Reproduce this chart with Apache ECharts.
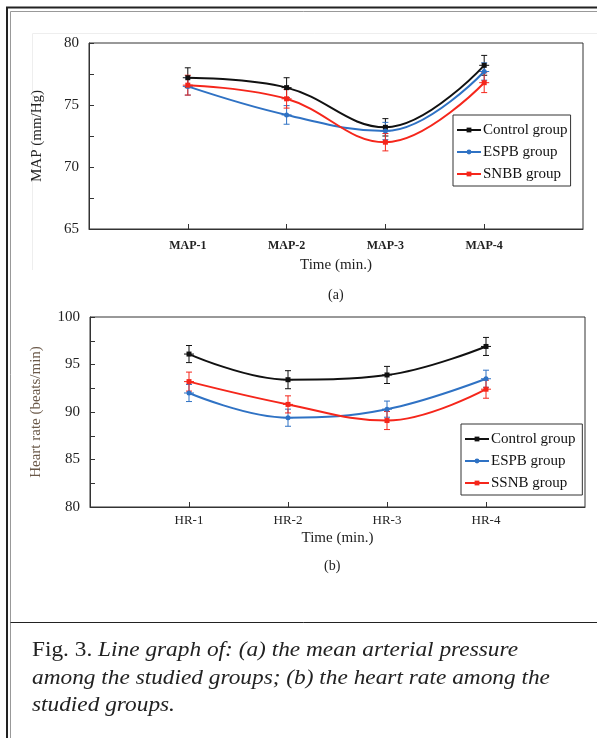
<!DOCTYPE html>
<html>
<head>
<meta charset="utf-8">
<script src="https://cdn.jsdelivr.net/npm/echarts@6/dist/echarts.min.js"></script>
<style>
  html, body { margin: 0; padding: 0; background: #fff; }
  #app { width: 597px; height: 738px; }
</style>
</head>
<body>
<div id="app"></div>
<script>
// values
const mapCategories = ["MAP-1", "MAP-2", "MAP-3", "MAP-4"];
const hrCategories = ["HR-1", "HR-2", "HR-3", "HR-4"];

const mapControl = [77.2, 76.4, 73.2, 78.2];
const mapEspb = [76.5, 74.2, 72.9, 77.7];
const mapSnbb = [76.6, 75.5, 72.0, 76.8];
const mapControlErr = [0.8, 0.8, 0.7, 0.8];
const mapEspbErr = [0.7, 0.75, 0.7, 0.7];
const mapSnbbErr = [0.8, 0.75, 0.7, 0.8];

const hrControl = [96.1, 93.4, 93.9, 96.9];
const hrEspb = [92.0, 89.4, 90.3, 93.5];
const hrSsnb = [93.2, 90.8, 89.1, 92.4];
const hrControlErr = [0.9, 0.95, 0.9, 0.95];
const hrEspbErr = [0.9, 0.9, 0.85, 0.9];
const hrSsnbErr = [1.0, 0.9, 0.95, 0.95];

const SERIF = "'Liberation Serif', 'Times New Roman', serif";
const BLACK = "#111";
const BLUE = "#2f72c4";
const RED = "#f5261b";

// pad the category axis with an empty slot on each side
const padCats = cats => [""].concat(cats, [""]);
const toPoints = vals => vals.map((v, i) => [i + 1, v]);
const toErr = (vals, errs) => vals.map((v, i) => [i + 1, v, errs[i]]);

function lineSeries(name, vals, color, symbol, axis) {
  return {
    type: "line",
    name,
    xAxisIndex: axis,
    yAxisIndex: axis,
    data: toPoints(vals),
    smooth: 0.4,
    symbol,
    symbolSize: 5,
    lineStyle: { color, width: 2 },
    itemStyle: { color },
    z: 3
  };
}

function errSeries(name, vals, errs, color, axis) {
  return {
    type: "custom",
    name: name + " (sd)",
    xAxisIndex: axis,
    yAxisIndex: axis,
    data: toErr(vals, errs),
    encode: { x: 0, y: 1 },
    z: 2,
    renderItem: (params, api) => {
      const x = api.value(0), y = api.value(1), e = api.value(2);
      const hi = api.coord([x, y + e]);
      const lo = api.coord([x, y - e]);
      const mid = api.coord([x, y]);
      const cap = 3;
      const style = { stroke: color, lineWidth: 1 };
      return {
        type: "group",
        children: [
          { type: "line", shape: { x1: hi[0], y1: hi[1], x2: lo[0], y2: lo[1] }, style },
          { type: "line", shape: { x1: hi[0] - cap, y1: hi[1], x2: hi[0] + cap, y2: hi[1] }, style },
          { type: "line", shape: { x1: lo[0] - cap, y1: lo[1], x2: lo[0] + cap, y2: lo[1] }, style },
          { type: "line", shape: { x1: mid[0] - 5, y1: mid[1], x2: mid[0] + 5, y2: mid[1] }, style }
        ]
      };
    }
  };
}

function xAxisFor(cats, axis, labelStyle, nameGap) {
  return {
    type: "category",
    gridIndex: axis,
    data: padCats(cats),
    boundaryGap: false,
    name: "Time (min.)",
    nameLocation: "middle",
    nameGap,
    nameTextStyle: { fontFamily: SERIF, fontSize: 15, color: "#222" },
    axisLine: { lineStyle: { color: "#333", width: 1 } },
    axisTick: {
      inside: true,
      length: 5,
      interval: (i, v) => v !== "",
      lineStyle: { color: "#333" }
    },
    axisLabel: Object.assign({
      interval: (i, v) => v !== "",
      fontFamily: SERIF,
      color: "#222"
    }, labelStyle),
    splitLine: { show: false }
  };
}

function yAxisFor(min, max, axis, name, nameColor, nameGap) {
  return {
    type: "value",
    gridIndex: axis,
    min,
    max,
    interval: 2.5,
    name,
    nameLocation: "middle",
    nameRotate: 90,
    nameGap,
    nameTextStyle: { fontFamily: SERIF, fontSize: 15, color: nameColor },
    axisLine: { show: true, lineStyle: { color: "#333", width: 1 } },
    axisTick: { show: true, inside: true, length: 5, lineStyle: { color: "#333" } },
    axisLabel: {
      fontFamily: SERIF,
      fontSize: 15,
      color: "#222",
      margin: 10,
      formatter: v => (v % 5 === 0 ? String(v) : "")
    },
    splitLine: { show: false }
  };
}

function legendFor(names, left, top) {
  return {
    orient: "vertical",
    left,
    top,
    data: names,
    itemWidth: 24,
    itemHeight: 6,
    itemGap: 6,
    padding: [7, 3, 4, 3],
    borderColor: "#333",
    borderWidth: 1,
    backgroundColor: "#fff",
    textStyle: { fontFamily: SERIF, fontSize: 15, color: "#111", lineHeight: 16, padding: [0, 0, 0, -3] },
    selectedMode: false
  };
}

function captionLine(y, rich) {
  return {
    type: "text",
    x: 32,
    y,
    scaleX: 1.06,
    style: {
      text: rich,
      rich: {
        n: { fontFamily: SERIF, fontSize: 22, fill: "#222" },
        i: { fontFamily: SERIF, fontSize: 22, fontStyle: "italic", fill: "#222" }
      }
    }
  };
}

const chart = echarts.init(document.getElementById("app"), null, { renderer: "canvas" });

chart.setOption({
  backgroundColor: "#fff",
  animation: false,
  grid: [
    { left: 89, top: 43, width: 494, height: 186, show: true, borderColor: "#333", borderWidth: 1, backgroundColor: "transparent" },
    { left: 90, top: 317, width: 495, height: 190, show: true, borderColor: "#333", borderWidth: 1, backgroundColor: "transparent" }
  ],
  xAxis: [
    xAxisFor(mapCategories, 0, { fontSize: 12, fontWeight: "bold", margin: 11 }, 29),
    xAxisFor(hrCategories, 1, { fontSize: 13, margin: 7 }, 24)
  ],
  yAxis: [
    yAxisFor(65, 80, 0, "MAP (mm/Hg)", "#222", 44),
    yAxisFor(80, 100, 1, "Heart rate (beats/min)", "#6a5848", 46)
  ],
  legend: [
    legendFor(["Control group", "ESPB group", "SNBB group"], 453, 115),
    legendFor(["Control group ", "ESPB group ", "SSNB group"], 461, 424)
  ],
  series: [
    lineSeries("Control group", mapControl, BLACK, "rect", 0),
    lineSeries("ESPB group", mapEspb, BLUE, "circle", 0),
    lineSeries("SNBB group", mapSnbb, RED, "rect", 0),
    errSeries("Control group", mapControl, mapControlErr, BLACK, 0),
    errSeries("ESPB group", mapEspb, mapEspbErr, BLUE, 0),
    errSeries("SNBB group", mapSnbb, mapSnbbErr, RED, 0),

    lineSeries("Control group ", hrControl, BLACK, "rect", 1),
    lineSeries("ESPB group ", hrEspb, BLUE, "circle", 1),
    lineSeries("SSNB group", hrSsnb, RED, "rect", 1),
    errSeries("Control group ", hrControl, hrControlErr, BLACK, 1),
    errSeries("ESPB group ", hrEspb, hrEspbErr, BLUE, 1),
    errSeries("SSNB group", hrSsnb, hrSsnbErr, RED, 1)
  ],
  graphic: [
    // page frame
    { type: "line", shape: { x1: 6, y1: 7.5, x2: 597, y2: 7.5 }, style: { stroke: "#222", lineWidth: 2 } },
    { type: "line", shape: { x1: 7, y1: 7, x2: 7, y2: 738 }, style: { stroke: "#222", lineWidth: 2 } },
    { type: "line", shape: { x1: 10.5, y1: 11.5, x2: 597, y2: 11.5 }, style: { stroke: "#999", lineWidth: 1 } },
    { type: "line", shape: { x1: 10.5, y1: 11.5, x2: 10.5, y2: 738 }, style: { stroke: "#999", lineWidth: 1 } },
    { type: "line", shape: { x1: 10.5, y1: 622.5, x2: 597, y2: 622.5 }, style: { stroke: "#222", lineWidth: 1 } },
    // faint chart area edges
    { type: "line", shape: { x1: 32.5, y1: 33.5, x2: 597, y2: 33.5 }, style: { stroke: "#eee", lineWidth: 1 } },
    { type: "line", shape: { x1: 32.5, y1: 33.5, x2: 32.5, y2: 270 }, style: { stroke: "#eee", lineWidth: 1 } },
    // panel labels
    { type: "text", left: 328, top: 288, style: { text: "(a)", fontFamily: SERIF, fontSize: 14, fill: "#222" } },
    { type: "text", left: 324, top: 559, style: { text: "(b)", fontFamily: SERIF, fontSize: 14, fill: "#222" } },
    // caption
    captionLine(639, "{n|Fig. 3. }{i|Line graph of: (a) the mean arterial pressure}"),
    captionLine(667, "{i|among the studied groups; (b) the heart rate among the}"),
    captionLine(694, "{i|studied groups.}")
  ]
});

window.onresize = function() {
  chart.resize();
};
</script>
</body>
</html>
